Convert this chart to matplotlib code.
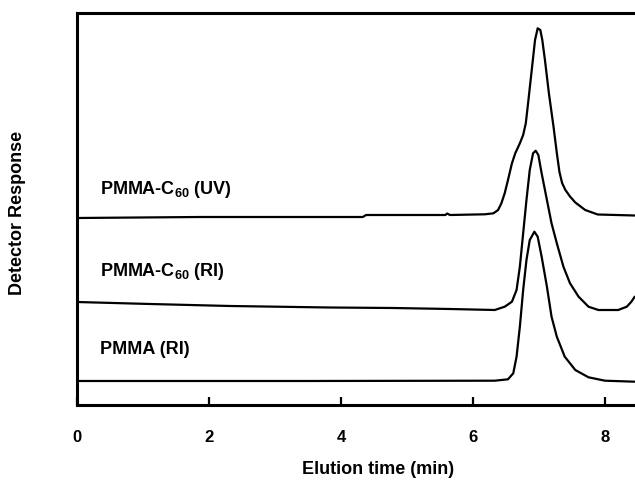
import matplotlib
matplotlib.use("Agg")
import matplotlib.pyplot as plt

plt.rcParams['font.family'] = ['Liberation Sans', 'DejaVu Sans']
plt.rcParams['font.weight'] = 'bold'
plt.rcParams['mathtext.default'] = 'regular'

# ---- data ----
uv_time = [0.00, 1.86, 4.33, 4.38, 5.58, 5.61, 5.65, 6.18, 6.31, 6.38, 6.43, 6.48,
           6.53, 6.59, 6.64, 6.71, 6.76, 6.80, 6.84, 6.89, 6.94, 6.98, 7.02, 7.05,
           7.09, 7.15, 7.22, 7.27, 7.31, 7.35, 7.40, 7.47, 7.55, 7.70, 7.89, 8.45]
uv_resp = [187, 188, 188, 190, 190, 191.5, 190, 190.7, 191.7, 195, 201.7, 211.7,
           225, 241.7, 251.7, 261.7, 270, 281.7, 305, 335, 365, 376.7, 375, 365,
           345, 311.7, 278.3, 252, 233, 222, 215, 208.5, 202.5, 195, 190.5, 189.5]

ri_time = [0.00, 1.11, 2.32, 3.83, 4.79, 5.65, 6.33, 6.48, 6.59, 6.66, 6.71, 6.76,
           6.81, 6.86, 6.91, 6.95, 6.99, 7.04, 7.12, 7.19, 7.27, 7.37, 7.47, 7.60,
           7.75, 7.90, 8.20, 8.33, 8.40, 8.45]
ri_resp = [103, 101, 99, 97.5, 97, 96, 95, 98.3, 103.3, 115, 138.3, 171.7,
           205, 235, 251.7, 254.3, 250, 231.7, 205, 181.7, 161.7, 138.3, 121.7, 108.3,
           98.3, 95, 95, 98.3, 103.3, 108.3]

pmma_time = [0.00, 3.38, 6.33, 6.53, 6.61, 6.66, 6.71, 6.76, 6.81, 6.86, 6.93, 6.98,
             7.04, 7.12, 7.19, 7.27, 7.39, 7.55, 7.75, 8.00, 8.45]
pmma_resp = [24, 24, 24.3, 25.7, 31.7, 48.3, 78.3, 115, 145, 165, 173.3, 168.3,
             148.3, 118.3, 88.3, 68.3, 48.3, 35, 27.7, 24.3, 23.3]

series_labels = ["PMMA-C$_{60}$ (UV)", "PMMA-C$_{60}$ (RI)", "PMMA (RI)"]
label_resp = [215, 133, 55]
xticks = [0, 2, 4, 6, 8]

# ---- figure ----
W, H = 635, 493
fig = plt.figure(figsize=(W / 100, H / 100), dpi=100)
ax = fig.add_axes([77 / W, 1 - 405 / H, 1 - 77 / W, (405 - 12.5) / H])

for t, r in [(uv_time, uv_resp), (ri_time, ri_resp), (pmma_time, pmma_resp)]:
    ax.plot(t, r, color='black', lw=1.6, solid_joinstyle='round',
            solid_capstyle='round', clip_on=False)

for lab, yr in zip(series_labels, label_resp):
    ax.text(0.35, yr, lab, ha='left', va='center', fontsize=13, fontweight='bold')

ax.set_xlim(0, (W - 77) / 66)
ax.set_ylim(0, 392.5)
ax.set_xticks(xticks)
ax.set_xticklabels([str(v) for v in xticks])
ax.set_yticks([])

for s in ['left', 'top', 'bottom']:
    ax.spines[s].set_linewidth(2.2)
ax.spines['right'].set_visible(False)

ax.tick_params(axis='x', direction='in', length=5.5, width=1.6, pad=18,
               labelsize=12)
for lab in ax.get_xticklabels():
    lab.set_fontweight('bold')

ax.set_xlabel("Elution time (min)", fontsize=13, fontweight='bold')
ax.xaxis.label.set_va('center')
ax.xaxis.set_label_coords((378 - 77) / (W - 77), (405 - 470) / 392.5)

ax.set_ylabel("Detector Response", fontsize=13, fontweight='bold')
ax.yaxis.label.set_va('center')
ax.yaxis.set_label_coords((18 - 77) / (W - 77), 0.5 - 0.01)

fig.savefig("out.png", dpi=100)
